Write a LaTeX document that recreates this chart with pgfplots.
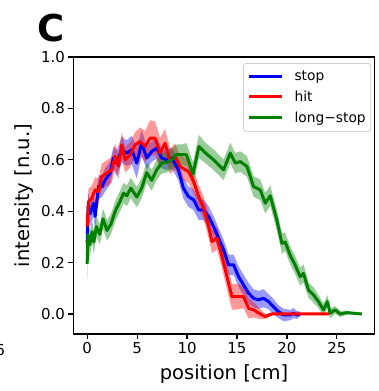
\documentclass[border=0pt]{standalone}
\usepackage{fontspec}
\setmainfont{DejaVu Sans}
\usepackage{pgfplots}
\pgfplotsset{compat=1.18}
\usepgfplotslibrary{fillbetween}
\usepackage{pgfplotstable}

\pgfplotstableread{
x y e
0 0.276 0.04
0.1 0.42 0.05
0.3 0.39 0.05
0.63 0.431 0.05
0.8 0.38 0.05
1.13 0.496 0.045
1.46 0.494 0.04
1.8 0.522 0.045
2.3 0.548 0.045
2.63 0.607 0.045
2.96 0.587 0.05
3.46 0.639 0.05
3.96 0.626 0.05
4.46 0.639 0.055
4.96 0.587 0.06
5.46 0.665 0.05
5.96 0.607 0.045
6.46 0.632 0.04
6.96 0.645 0.04
7.46 0.607 0.04
7.96 0.60 0.04
8.46 0.607 0.04
9.13 0.561 0.04
9.63 0.49 0.04
10.13 0.457 0.04
10.66 0.444 0.04
11.16 0.405 0.04
11.66 0.405 0.04
12.16 0.379 0.04
12.66 0.34 0.04
13.16 0.295 0.04
13.66 0.249 0.04
14.16 0.191 0.04
14.66 0.191 0.04
15.16 0.145 0.04
15.66 0.113 0.04
16.16 0.081 0.04
16.66 0.061 0.035
17.16 0.055 0.035
17.66 0.061 0.035
18.16 0.048 0.03
18.66 0.028 0.03
19.16 0.009 0.025
19.66 -0.004 0.025
20.33 -0.004 0.02
20.66 0.003 0.02
21.0 -0.004 0.015
21.33 0.0 0.01
}\stopdata

\pgfplotstableread{
x y e
0 0.34 0.05
0.13 0.437 0.05
0.46 0.45 0.05
0.8 0.483 0.05
1.13 0.476 0.05
1.46 0.535 0.05
1.96 0.548 0.05
2.46 0.561 0.05
2.8 0.613 0.05
3.13 0.575 0.05
3.46 0.658 0.05
3.8 0.60 0.05
4.3 0.619 0.05
4.8 0.658 0.05
5.3 0.671 0.055
5.8 0.652 0.06
6.3 0.684 0.07
6.8 0.684 0.065
7.3 0.626 0.06
7.8 0.665 0.055
8.3 0.593 0.05
8.8 0.613 0.05
9.3 0.574 0.045
9.83 0.561 0.045
10.16 0.554 0.045
10.66 0.515 0.045
11.16 0.457 0.045
11.66 0.412 0.045
12.0 0.366 0.045
12.5 0.282 0.045
13.0 0.295 0.045
13.5 0.223 0.045
14.0 0.145 0.05
14.5 0.067 0.05
15.0 0.067 0.05
15.66 0.067 0.045
16.16 0.022 0.04
16.66 0.016 0.03
17.33 0.0 0.02
17.83 -0.01 0.01
18.5 0.0 0.005
24.2 0.0 0.0
}\hitdata

\pgfplotstableread{
x y e
0 0.195 0.065
0.07 0.31 0.05
0.26 0.27 0.05
0.5 0.32 0.045
0.66 0.28 0.045
0.93 0.34 0.04
1.26 0.31 0.04
1.59 0.37 0.04
1.99 0.325 0.04
2.38 0.35 0.04
2.81 0.40 0.04
3.31 0.44 0.04
3.64 0.47 0.04
3.97 0.46 0.04
4.37 0.49 0.04
4.97 0.455 0.04
5.46 0.49 0.04
5.96 0.55 0.04
6.46 0.52 0.04
6.95 0.56 0.04
7.45 0.587 0.04
7.95 0.59 0.04
8.44 0.60 0.04
8.94 0.62 0.04
9.44 0.62 0.04
9.93 0.62 0.045
10.6 0.545 0.045
11.19 0.652 0.045
11.83 0.627 0.04
12.66 0.60 0.04
13.66 0.561 0.04
14.33 0.626 0.04
14.83 0.587 0.04
15.33 0.593 0.04
16.0 0.574 0.04
16.66 0.496 0.04
17.33 0.483 0.04
17.83 0.431 0.04
18.33 0.46 0.04
18.99 0.366 0.04
19.5 0.275 0.04
19.83 0.28 0.035
20.33 0.228 0.035
20.83 0.19 0.035
21.33 0.145 0.035
21.66 0.158 0.035
22.16 0.093 0.03
22.66 0.074 0.03
23.16 0.048 0.025
23.66 0.016 0.025
24.06 0.048 0.025
24.33 0.003 0.02
24.83 0.016 0.015
25.33 0.0 0.012
26.0 0.005 0.008
27.5 0.0 0.0
}\longdata

\definecolor{mplgreen}{rgb}{0,0.5,0}

\begin{document}
\begin{tikzpicture}
\begin{axis}[
  scale only axis, width=301pt, height=277pt,
  xmin=-1.37, xmax=28.77, ymin=-0.078, ymax=1.0,
  xtick={0,5,...,25}, ytick={0,0.2,0.4,0.6,0.8,1.0},
  tick align=outside, xtick pos=bottom, ytick pos=left,
  major tick length=5pt,
  every tick/.style={black, line width=1.2pt},
  axis line style={line width=1.2pt},
  /pgf/number format/assume math mode=true,
  tick label style={font=\fontsize{15}{18}\selectfont},
  yticklabel style={/pgf/number format/.cd, fixed, fixed zerofill, precision=1},
  xlabel={position [cm]}, ylabel={intensity [n.u.]},
  label style={font=\fontsize{19.5}{22}\selectfont},
  xlabel style={at={(axis description cs:0.5,-0.1444)}, anchor=center},
  ylabel style={at={(axis description cs:-0.1645,0.5)}, anchor=center},
  legend style={at={(rel axis cs:0.9887,0.978)}, anchor=north east,
    draw=black!20, rounded corners=2.5pt, line width=0.8pt,
    font=\fontsize{13.8}{16}\selectfont,
    inner xsep=4pt, inner ysep=6.5pt, row sep=6.8pt,
    nodes={inner sep=1pt},
    /tikz/every odd column/.append style={column sep=10pt}},
  legend cell align=left,
  legend image code/.code={\draw[#1, line width=3pt] (0pt,0pt) -- (33pt,0pt);},
]
% stop
\addplot[name path=bU, draw=none, forget plot] table[x=x, y expr=\thisrow{y}+\thisrow{e}] {\stopdata};
\addplot[name path=bL, draw=none, forget plot] table[x=x, y expr=\thisrow{y}-\thisrow{e}] {\stopdata};
\addplot[fill=blue, fill opacity=0.4, draw=none, forget plot] fill between[of=bU and bL];
\addplot[blue, line width=3pt, line join=round] table[x=x, y=y] {\stopdata};
\addlegendentry{stop}
% hit
\addplot[name path=rU, draw=none, forget plot] table[x=x, y expr=\thisrow{y}+\thisrow{e}] {\hitdata};
\addplot[name path=rL, draw=none, forget plot] table[x=x, y expr=\thisrow{y}-\thisrow{e}] {\hitdata};
\addplot[fill=red, fill opacity=0.4, draw=none, forget plot] fill between[of=rU and rL];
\addplot[red, line width=3pt, line join=round] table[x=x, y=y] {\hitdata};
\addlegendentry{hit}
% long-stop
\addplot[name path=gU, draw=none, forget plot] table[x=x, y expr=\thisrow{y}+\thisrow{e}] {\longdata};
\addplot[name path=gL, draw=none, forget plot] table[x=x, y expr=\thisrow{y}-\thisrow{e}] {\longdata};
\addplot[fill=mplgreen, fill opacity=0.4, draw=none, forget plot] fill between[of=gU and gL];
\addplot[mplgreen, line width=3pt, line join=round] table[x=x, y=y] {\longdata};
\addlegendentry{long−stop}
\end{axis}
\node[font=\bfseries\fontsize{37}{40}\selectfont, inner sep=0pt] at (-22.5pt,305.5pt) {C};
\node[anchor=east, font=\fontsize{15}{18}\selectfont, inner sep=0pt] at (-68.5pt,-16pt) {6};
\pgfresetboundingbox
\path (-73.5pt,-57pt) rectangle (305.5pt,334pt);
\end{tikzpicture}
\end{document}
